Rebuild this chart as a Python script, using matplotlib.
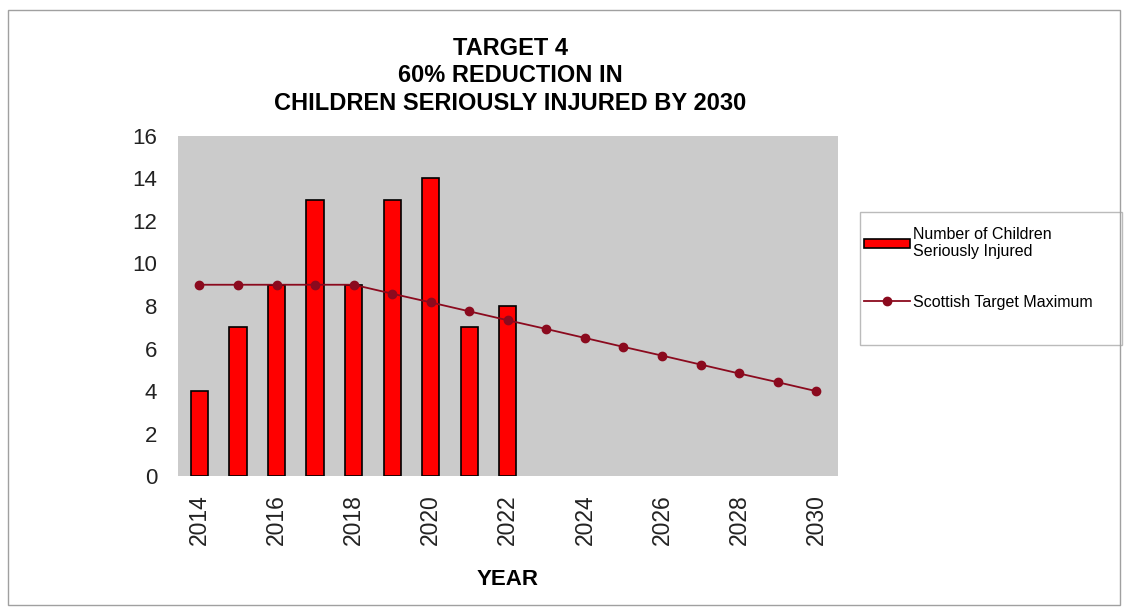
import matplotlib.pyplot as plt
from matplotlib.patches import Rectangle
import numpy as np

plt.rcParams['font.family'] = ['Liberation Sans', 'DejaVu Sans']

years = ['2014', '2015', '2016', '2017', '2018', '2019', '2020', '2021', '2022',
         '2023', '2024', '2025', '2026', '2027', '2028', '2029', '2030']
injured = [4, 7, 9, 13, 9, 13, 14, 7, 8]
target_max = [9, 9, 9, 9, 9, 8.58, 8.17, 7.75, 7.33,
              6.92, 6.5, 6.08, 5.67, 5.25, 4.83, 4.42, 4.0]

fig = plt.figure(figsize=(11.26, 6.09), dpi=100)
ax = fig.add_axes([0.158, 0.218, 0.586, 0.559])
ax.set_facecolor('#cbcbcb')

x = np.arange(len(years))
bars = ax.bar(x[:len(injured)], injured, width=0.45, color='#ff0000', edgecolor='black',
              linewidth=1.2, label='Number of Children\nSeriously Injured', zorder=2)
line, = ax.plot(x, target_max, color='#8b0a1e', marker='o', markersize=6, linewidth=1.3,
                label='Scottish Target Maximum', zorder=3)

ax.set_xlim(-0.56, len(years) - 0.44)
ax.set_ylim(0, 16)
ax.set_yticks(range(0, 17, 2))
# label every other year
ax.set_xticks(x[::2])
ax.set_xticklabels(years[::2], rotation=90, fontsize=16.5, color='#222222')
ax.tick_params(axis='y', labelsize=16, labelcolor='#222222', length=0, pad=15)
ax.tick_params(axis='x', length=0, pad=13)
for s in ax.spines.values():
    s.set_visible(False)

ax.set_xlabel('YEAR', fontsize=16, fontweight='bold', labelpad=17)
fig.text(0.453, 0.876, 'TARGET 4\n60% REDUCTION IN\nCHILDREN SERIOUSLY INJURED BY 2030',
         ha='center', va='center', fontsize=17, fontweight='bold', linespacing=1.25)

# legend box drawn separately so the padding can differ per side
fig.patches.append(Rectangle((860 / 1126, 1 - 345 / 609), 262 / 1126, 133 / 609,
                             transform=fig.transFigure, facecolor='white',
                             edgecolor='#bbbbbb', linewidth=1, zorder=0))
leg = fig.legend([bars, line], [bars.get_label(), line.get_label()],
                 loc='upper left', bbox_to_anchor=(864 / 1126, 1 - 227 / 609),
                 fontsize=11.5, frameon=False, handlelength=2.9, handleheight=0.5,
                 handletextpad=0.15, labelspacing=2.2, borderpad=0, borderaxespad=0)

# outer chart border
fig.patches.append(Rectangle((0.007, 0.007), 0.988, 0.976, transform=fig.transFigure,
                             fill=False, edgecolor='#a0a0a0', linewidth=1))

fig.savefig('out.png', dpi=100)
